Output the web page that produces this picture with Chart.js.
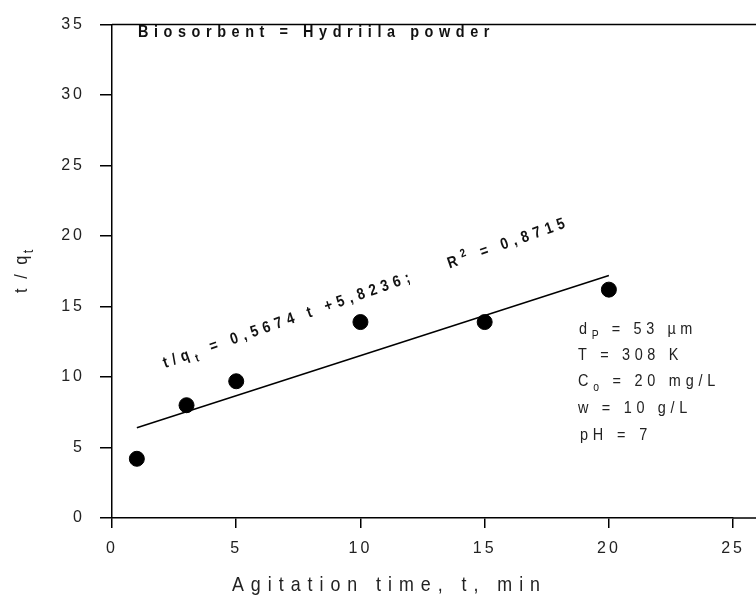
<!DOCTYPE html>
<html>
<head>
<meta charset="utf-8">
<script src="https://cdn.jsdelivr.net/npm/chart.js@4/dist/chart.umd.min.js"></script>
<style>
  html, body { margin: 0; padding: 0; background: #fff; }
  canvas { display: block; }
</style>
</head>
<body>
<canvas id="kinetic_chart" width="756" height="597"></canvas>
<script>
// agitation time (min) and t/qt
var timeMin = [1, 3, 5, 10, 15, 20];
var tOverQ = [4.2, 8.0, 9.7, 13.9, 13.9, 16.2];
// ends of the fitted line
var fitTime = [1, 20];
var fitTOverQ = [6.4, 17.2];
// axis ranges
var xRange = [0, 25, 5];
var yRange = [0, 35, 5];

var FONT = '"Liberation Sans", Arial, sans-serif';

// draw text made of parts (normal / sub / sup), squeezed sideways and spread to a width
function richText(ctx, parts, x, y, o) {
    var size = o.size, sx = o.sx || 1, rot = o.rot || 0;
    var weight = o.bold ? 'bold ' : '';
    var small = o.small || 0.72;
    ctx.save();
    ctx.letterSpacing = '0px';
    var natural = 0, chars = 0;
    parts.forEach(function (p) {
        var s = (p.sub || p.sup) ? size * small : size;
        ctx.font = weight + s + 'px ' + FONT;
        natural += ctx.measureText(p.t).width;
        chars += p.t.length;
    });
    var spacing = o.width ? (o.width / sx - natural) / chars : (o.spacing || 0);
    ctx.translate(x, y);
    ctx.rotate(rot);
    ctx.scale(sx, 1);
    ctx.fillStyle = o.color || '#111';
    ctx.textBaseline = 'alphabetic';
    ctx.textAlign = 'left';
    var cx = 0;
    parts.forEach(function (p) {
        var s = (p.sub || p.sup) ? size * small : size;
        var dy = p.sub ? size * 0.3 : (p.sup ? -size * 0.4 : 0);
        ctx.font = weight + s + 'px ' + FONT;
        for (var i = 0; i < p.t.length; i++) {
            var ch = p.t[i];
            ctx.fillText(ch, cx, dy);
            cx += ctx.measureText(ch).width + spacing;
        }
    });
    ctx.restore();
}

var spacedTicks = {
    id: 'spacedTicks',
    beforeUpdate: function (chart) { chart.ctx.letterSpacing = '3px'; },
    beforeDraw: function (chart) { chart.ctx.letterSpacing = '3px'; }
};

var notes = {
    id: 'notes',
    afterDraw: function (chart) {
        var ctx = chart.ctx, a = chart.chartArea;
        ctx.save();
        ctx.strokeStyle = '#000';
        ctx.lineWidth = 1.5;
        ctx.beginPath();
        ctx.moveTo(a.left, a.top);
        ctx.lineTo(chart.width, a.top);
        ctx.moveTo(a.right, a.bottom);
        ctx.lineTo(chart.width, a.bottom);
        ctx.stroke();
        ctx.restore();

        richText(ctx, [{t: 'Biosorbent = Hydriila powder'}], 138, 37,
            {size: 17, bold: true, sx: 0.85, width: 357});

        richText(ctx, [{t: 'Agitation time, t, min'}], 232, 591,
            {size: 21, sx: 0.85, width: 315, color: '#222'});

        richText(ctx, [{t: 't / q'}, {t: 't', sub: true}], 27, 293,
            {size: 19, sx: 0.85, width: 46, rot: -Math.PI / 2, color: '#222', small: 0.8});

        richText(ctx, [{t: 't/q'}, {t: 't', sub: true}, {t: ' = 0,5674 t +5,8236;    R'},
                       {t: '2', sup: true}, {t: ' = 0,8715'}], 165, 368,
            {size: 16, bold: true, sx: 0.85, width: 430, rot: -19.3 * Math.PI / 180});

        var lines = [
            {parts: [{t: 'd'}, {t: 'P', sub: true}, {t: ' = 53 \u00b5m'}], x: 579, y: 334, w: 118},
            {parts: [{t: 'T = 308 K'}], x: 578, y: 360, w: 105},
            {parts: [{t: 'C'}, {t: 'o', sub: true}, {t: ' = 20 mg/L'}], x: 578, y: 386, w: 142},
            {parts: [{t: 'w = 10 g/L'}], x: 578, y: 413, w: 114},
            {parts: [{t: 'pH = 7'}], x: 580, y: 440, w: 72}
        ];
        lines.forEach(function (l) {
            richText(ctx, l.parts, l.x, l.y, {size: 17, sx: 0.85, width: l.w, color: '#222'});
        });
    }
};

var ctx = document.getElementById('kinetic_chart').getContext('2d');
var myChart = new Chart(ctx, {
    type: 'scatter',
    data: {
        datasets: [{
            label: 'Experimental',
            data: timeMin.map(function (t, i) { return {x: t, y: tOverQ[i]}; }),
            backgroundColor: '#000',
            borderColor: '#000',
            pointRadius: 7.5,
            pointHoverRadius: 7.5
        }, {
            label: 'Fit',
            data: fitTime.map(function (t, i) { return {x: t, y: fitTOverQ[i]}; }),
            showLine: true,
            borderColor: '#000',
            borderWidth: 1.5,
            pointRadius: 0
        }]
    },
    options: {
        responsive: false,
        animation: false,
        layout: { padding: { top: 20, right: 15, left: 0, bottom: 0 } },
        plugins: {
            legend: { display: false },
            tooltip: { enabled: false }
        },
        scales: {
            x: {
                type: 'linear',
                min: xRange[0], max: xRange[1],
                ticks: { stepSize: xRange[2], color: '#222', padding: 11,
                         font: { family: FONT, size: 16 } },
                grid: { drawOnChartArea: false, tickLength: 10, color: '#000', lineWidth: 1.5 },
                border: { color: '#000', width: 1.5 },
                afterFit: function (s) { s.height = 79; }
            },
            y: {
                min: yRange[0], max: yRange[1],
                ticks: { stepSize: yRange[2], color: '#222', padding: 15,
                         font: { family: FONT, size: 16 } },
                grid: { drawOnChartArea: false, tickLength: 12, color: '#000', lineWidth: 1.5 },
                border: { color: '#000', width: 1.5 },
                afterFit: function (s) { s.width = 112; }
            }
        }
    },
    plugins: [spacedTicks, notes]
});
</script>
</body>
</html>
